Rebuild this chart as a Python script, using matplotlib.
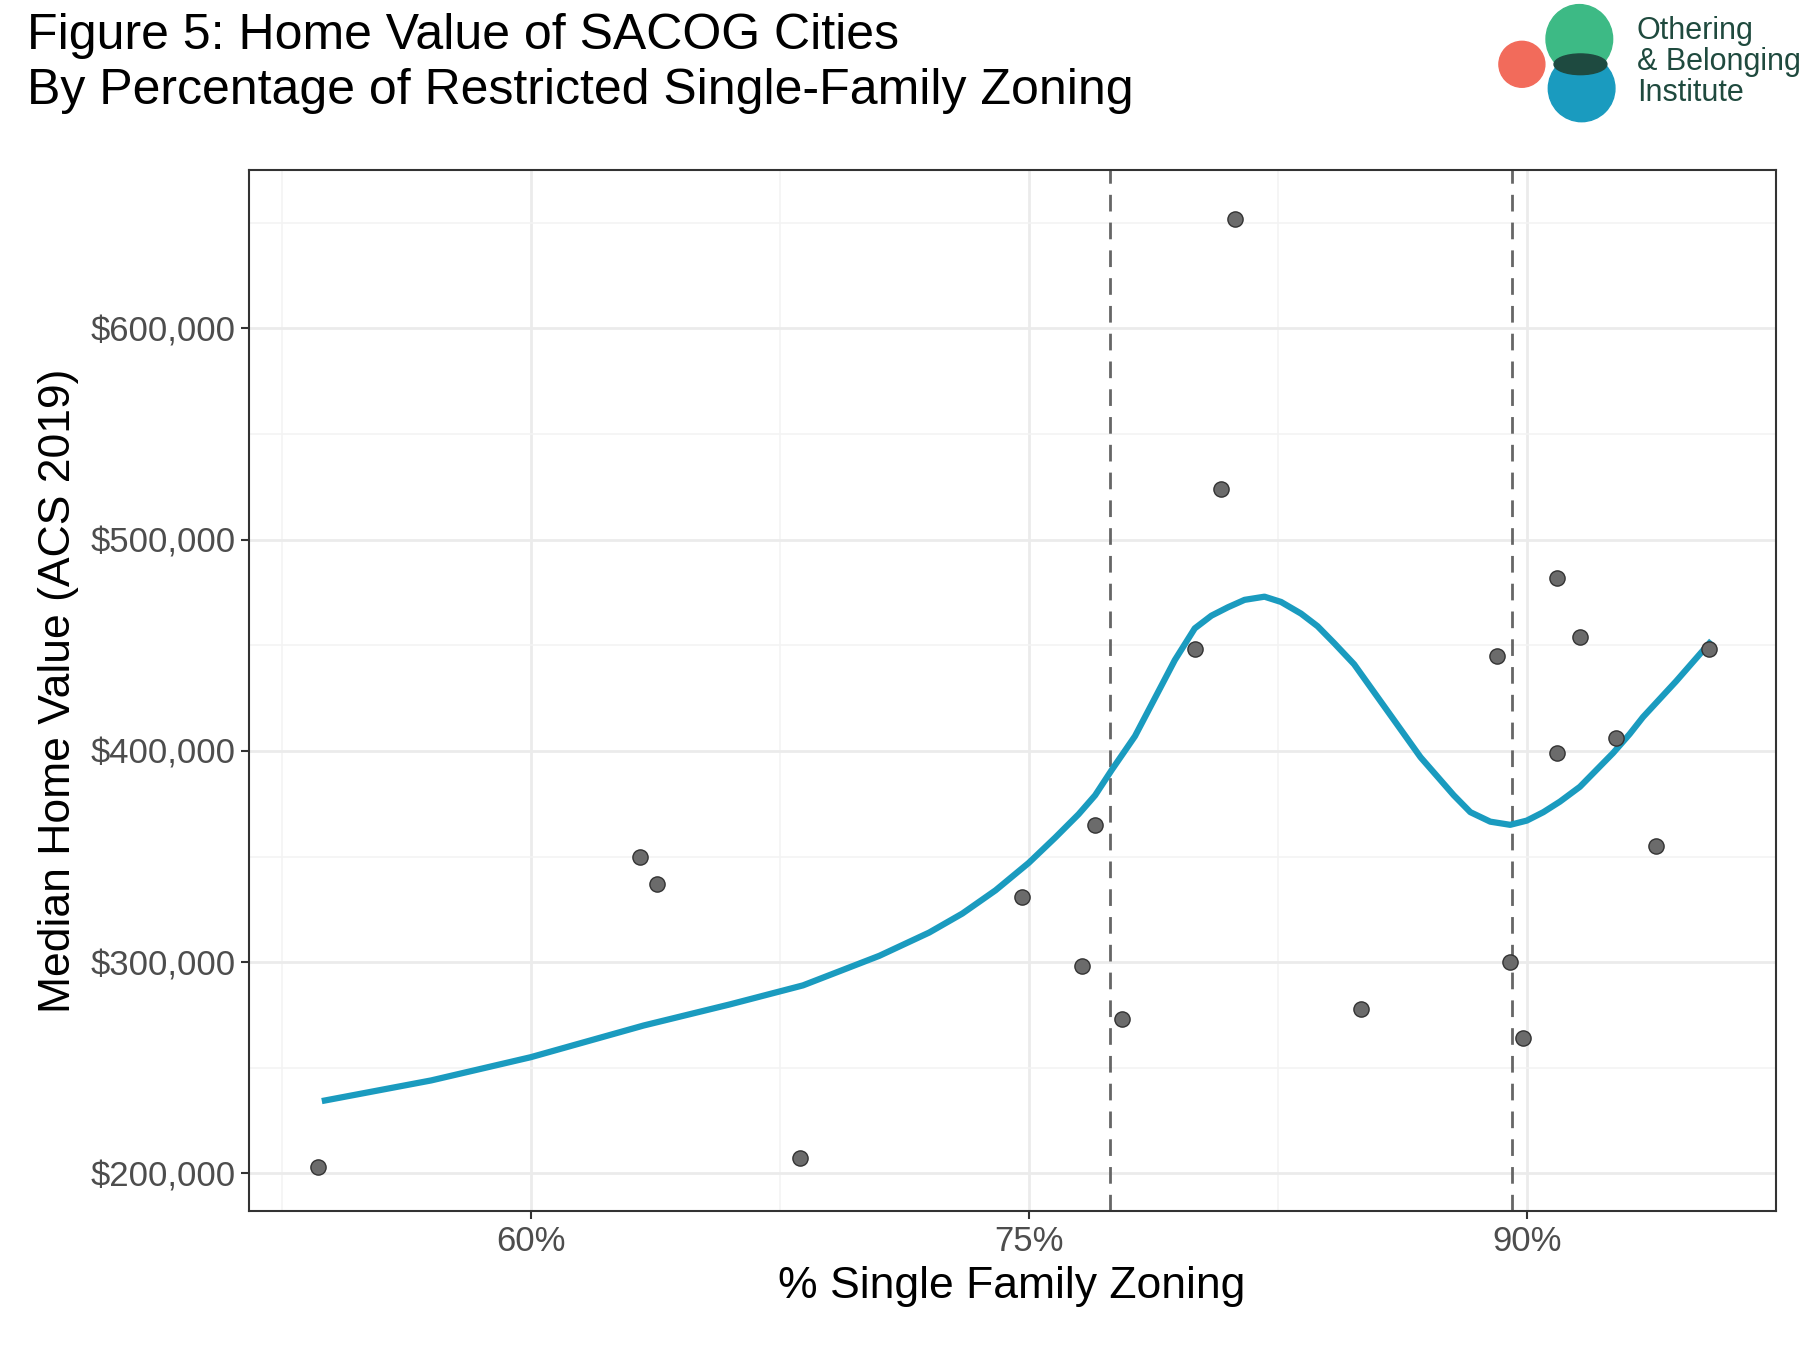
import numpy as np
import matplotlib.pyplot as plt
from matplotlib.patches import Ellipse
from matplotlib.ticker import FuncFormatter

plt.rcParams['font.family'] = ['Liberation Sans', 'DejaVu Sans']

# city points: % single family zoning, median home value
zoning = [53.6, 63.3, 63.8, 68.1, 74.8, 76.6, 77.0, 77.8, 80.0, 80.8, 81.2,
          85.0, 89.1, 89.5, 89.9, 90.9, 90.9, 91.6, 92.7, 93.9, 95.5]
home_value = [203000, 350000, 337000, 207500, 331000, 298000, 365000, 273000,
              448000, 524000, 652000, 278000, 445000, 300000, 264000, 399000,
              482000, 454000, 406000, 355000, 448000]

# smoothed trend
smooth_x = [53.8, 57.0, 60.0, 63.4, 66.0, 68.2, 70.5, 72.0, 73.0, 74.0, 75.0,
            75.8, 76.5, 77.0, 77.5, 78.2, 78.8, 79.4, 80.0, 80.5, 81.0, 81.5,
            82.1, 82.6, 83.2, 83.7, 84.2, 84.8, 85.3, 85.8, 86.3, 86.8, 87.3,
            87.8, 88.3, 88.9, 89.5, 90.0, 90.5, 91.0, 91.6, 92.1, 92.6, 93.1,
            93.5, 94.0, 94.5, 95.0, 95.5]
smooth_y = [234500, 244000, 255000, 270000, 280000, 289000, 303000, 314000,
            323000, 334000, 347000, 359000, 370000, 379000, 391000, 407000,
            425000, 443000, 458000, 464000, 468000, 471500, 473000, 470500,
            465000, 459000, 451000, 441000, 430000, 419000, 408000, 397000,
            388000, 379000, 371000, 366500, 365000, 367000, 371000, 376000,
            383000, 391000, 399000, 408000, 416000, 424500, 433000, 442000,
            451000]

cutoffs = [77.46, 89.55]

fig = plt.figure(figsize=(18.01, 13.49), dpi=100)
ax = fig.add_axes([0.138, 0.102, 0.848, 0.772])

ax.grid(True, which='major', color='#ebebeb', lw=2)
ax.set_xticks([52.5, 67.5, 82.5, 97.5], minor=True)
ax.set_yticks([250000, 350000, 450000, 550000, 650000], minor=True)
ax.grid(True, which='minor', color='#f3f3f3', lw=1.2)
ax.set_axisbelow(True)

for c in cutoffs:
    ax.axvline(c, color='#666666', ls=(0, (6, 4)), lw=2)
ax.plot(smooth_x, smooth_y, color='#1a9bbf', lw=4.5, zorder=3)
ax.scatter(zoning, home_value, s=120, color='#6b6b6b', edgecolor='#333333',
           lw=1, zorder=4)

ax.set_xlim(51.5, 97.5)
ax.set_ylim(182000, 675000)
ax.set_xticks([60, 75, 90])
ax.set_yticks([200000, 300000, 400000, 500000, 600000])
ax.xaxis.set_major_formatter(FuncFormatter(lambda v, p: f'{v:.0f}%'))
ax.yaxis.set_major_formatter(FuncFormatter(lambda v, p: f'${v:,.0f}'))
ax.tick_params(axis='both', which='major', labelsize=25, labelcolor='#4d4d4d',
               color='#333333', length=6, width=1.5)
ax.tick_params(which='minor', length=0)
for s in ax.spines.values():
    s.set_color('#333333')
    s.set_linewidth(1.5)

ax.set_xlabel('% Single Family Zoning', fontsize=32, labelpad=6)
ax.set_ylabel('Median Home Value (ACS 2019)', fontsize=32, labelpad=8)

fig.text(0.015, 0.99, 'Figure 5: Home Value of SACOG Cities\nBy Percentage of Restricted Single-Family Zoning',
         fontsize=36, va='top', ha='left', linespacing=1.25)

# logo
lax = fig.add_axes([1290 / 1568, 1 - 110 / 1175, 278 / 1568, 110 / 1175])
lax.set_xlim(0, 278)
lax.set_ylim(0, 110)
lax.axis('off')
lax.add_patch(Ellipse((35, 54), 40, 40, color='#f26b5b'))
lax.add_patch(Ellipse((85, 76), 58, 60, color='#3dba85'))
lax.add_patch(Ellipse((87, 33), 58, 58, color='#1a9bbf'))
lax.add_patch(Ellipse((86, 54), 46, 18, color='#1e4a40'))
lax.text(135, 56, 'Othering\n& Belonging\nInstitute', fontsize=22, color='#1f4a3e',
         va='center', ha='left', linespacing=1.05)

fig.savefig('out.png', dpi=100)
